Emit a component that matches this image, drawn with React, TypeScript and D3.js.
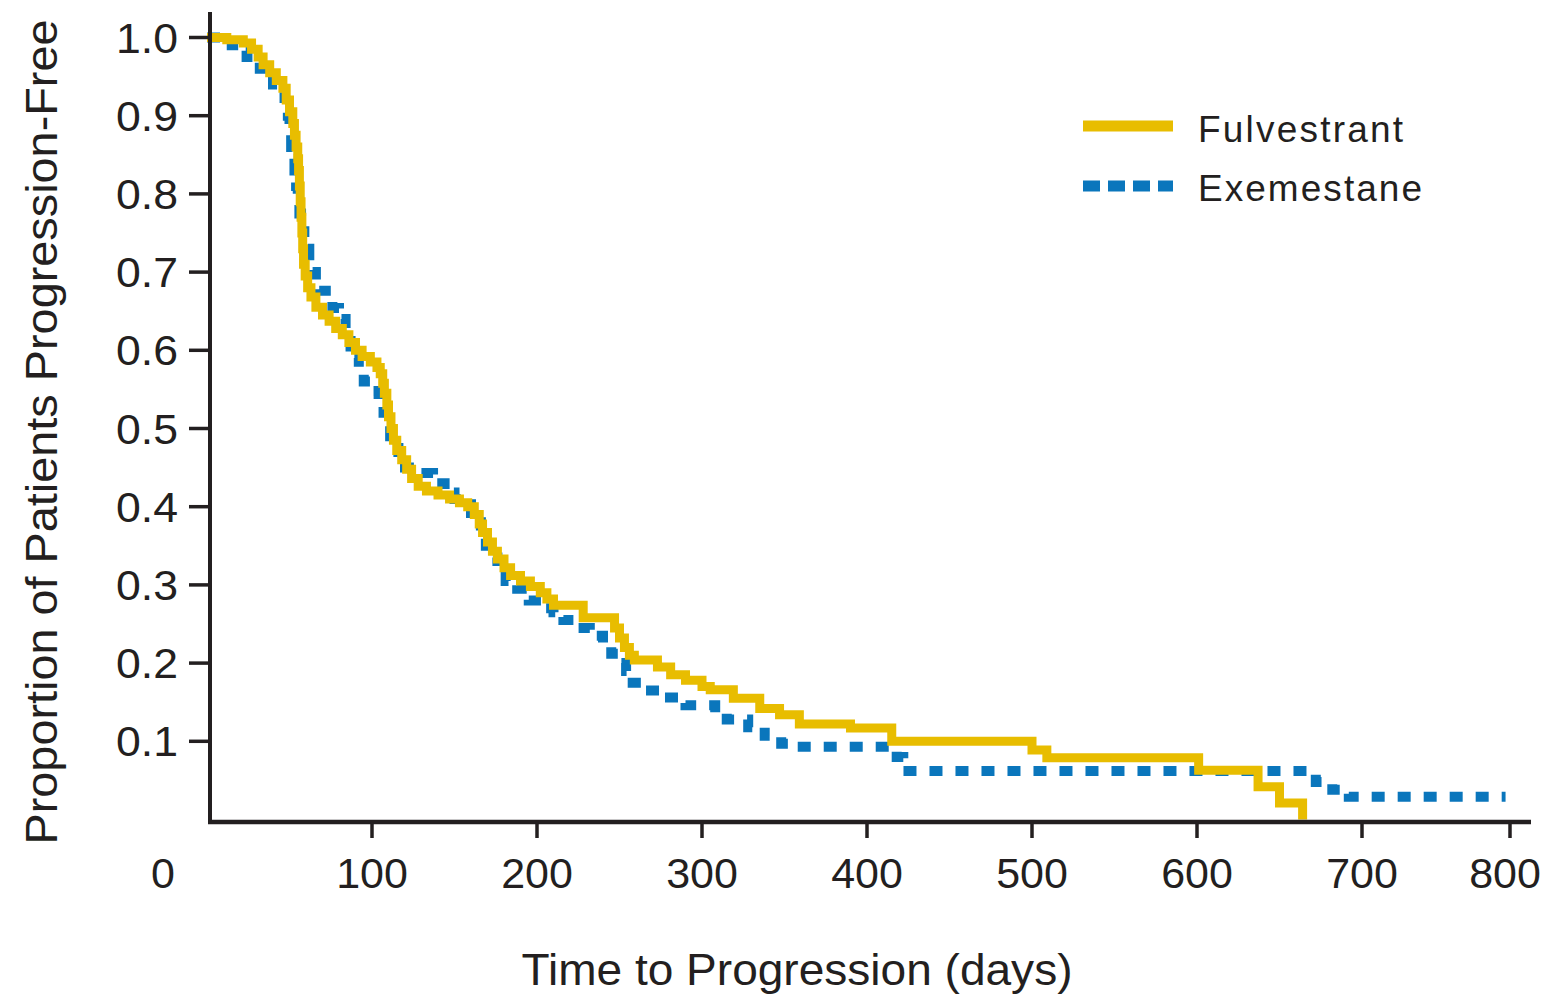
import React from "react";
import * as d3 from "d3";

const xTicks = [100, 200, 300, 400, 500, 600, 700, 800];
const yTicks = [0.1, 0.2, 0.3, 0.4, 0.5, 0.6, 0.7, 0.8, 0.9, 1.0];

const seriesNames = ["Fulvestrant", "Exemestane"];

const fulvestrantDays = [0, 12, 22, 27, 31, 34, 38, 42, 46, 48, 50, 52, 53, 54, 55, 55.5, 56, 56.5, 57, 57.5, 58, 58.5, 59.5, 61, 63, 66, 70, 74, 78, 82, 86, 90, 94, 99, 103, 105, 106.5, 107.5, 109, 110, 111.5, 113, 115, 118, 121, 124, 128, 133, 140, 147, 153, 158, 162, 165, 167, 170, 173, 176, 180, 184, 190, 196, 202, 206, 210, 228, 247, 250, 253, 256, 259, 273, 281, 290, 300, 305, 319, 335, 347, 359, 390, 415, 500, 509, 601, 637, 650, 664];
const fulvestrantSurv = [1.0, 0.997, 0.993, 0.985, 0.975, 0.965, 0.955, 0.945, 0.935, 0.92, 0.905, 0.89, 0.875, 0.86, 0.845, 0.83, 0.81, 0.79, 0.77, 0.75, 0.73, 0.71, 0.695, 0.68, 0.668, 0.655, 0.645, 0.637, 0.628, 0.62, 0.61, 0.6, 0.592, 0.585, 0.578, 0.57, 0.558, 0.545, 0.53, 0.515, 0.5, 0.485, 0.472, 0.46, 0.448, 0.436, 0.426, 0.42, 0.415, 0.41, 0.405, 0.4, 0.39, 0.378, 0.367, 0.355, 0.343, 0.333, 0.322, 0.312, 0.305, 0.298, 0.29, 0.282, 0.274, 0.258, 0.245, 0.232, 0.22, 0.21, 0.204, 0.195, 0.185, 0.178, 0.17, 0.166, 0.155, 0.142, 0.134, 0.122, 0.117, 0.1, 0.089, 0.079, 0.063, 0.042, 0.021, 0];

const exemestaneDays = [0, 10, 15, 20, 24, 28, 32, 36, 40, 44, 47, 49, 50, 51, 52, 53, 54, 55, 56, 57, 59, 61, 62, 64, 66, 68, 72, 76, 80, 84, 87, 89, 92, 95, 100, 104, 107, 109, 111, 113, 116, 120, 126, 137, 144, 150, 155, 160, 163, 166, 169, 172, 176, 181, 188, 195, 203, 210, 216, 224, 232, 240, 245, 250, 254, 258, 265, 276, 290, 308, 315, 328, 338, 348, 354, 418, 422, 672, 682, 692, 797];
const exemestaneSurv = [1.0, 0.995, 0.99, 0.983, 0.975, 0.968, 0.96, 0.95, 0.94, 0.93, 0.915, 0.9, 0.88, 0.86, 0.845, 0.83, 0.81, 0.79, 0.775, 0.76, 0.745, 0.73, 0.715, 0.7, 0.688, 0.676, 0.665, 0.654, 0.64, 0.625, 0.605, 0.59, 0.575, 0.56, 0.548, 0.535, 0.52, 0.505, 0.49, 0.475, 0.462, 0.45, 0.443, 0.43, 0.418, 0.41, 0.403, 0.392, 0.38, 0.366, 0.35, 0.335, 0.318, 0.305, 0.295, 0.28, 0.27, 0.265, 0.255, 0.245, 0.235, 0.225, 0.212, 0.2, 0.19, 0.175, 0.165, 0.156, 0.146, 0.137, 0.128, 0.118, 0.107, 0.097, 0.093, 0.08, 0.062, 0.048, 0.038, 0.029, 0.029];

const YELLOW = "#E8BD00";
const BLUE = "#0A76BC";
const INK = "#231F20";
const FONT = "'Liberation Sans', Arial, Helvetica, sans-serif";

export default function App() {
  const x = d3.scaleLinear().domain([0, 700, 800]).range([207, 1362, 1510]);
  const y = d3.scaleLinear().domain([0, 1]).range([819.5, 37.5]);

  const line = d3
    .line<[number, number]>()
    .x((d) => x(d[0]))
    .y((d) => y(d[1]))
    .curve(d3.curveStepAfter);

  const fData: [number, number][] = fulvestrantDays.map((d, i) => [d, fulvestrantSurv[i]]);
  const eData: [number, number][] = exemestaneDays.map((d, i) => [d, exemestaneSurv[i]]);

  const axisY = 822;
  const axisX = 210;

  return (
    <svg
      width={1553}
      height={998}
      style={{ position: "absolute", left: 0, top: 0, background: "#fff" }}
      fontFamily={FONT}
    >
      <rect x={0} y={0} width={1553} height={998} fill="#fff" />
      {/* curves */}
      <path d={line(eData) || ""} fill="none" stroke={BLUE} strokeWidth={10} strokeDasharray="13,13" />
      <path d={line(fData) || ""} fill="none" stroke={YELLOW} strokeWidth={9} strokeLinejoin="miter" />

      {/* axes */}
      <line x1={axisX} x2={axisX} y1={12} y2={axisY + 2} stroke={INK} strokeWidth={4} />
      <line x1={axisX - 2} x2={1531} y1={axisY} y2={axisY} stroke={INK} strokeWidth={4.5} />

      {yTicks.map((t) => (
        <g key={"y" + t}>
          <line x1={189} x2={axisX} y1={y(t)} y2={y(t)} stroke={INK} strokeWidth={3.5} />
          <text x={178} y={y(t) + 15} textAnchor="end" fontSize={43} fill={INK} textLength={62} lengthAdjust="spacingAndGlyphs">
            {t.toFixed(1)}
          </text>
        </g>
      ))}

      {xTicks.map((t) => (
        <g key={"x" + t}>
          <line x1={x(t)} x2={x(t)} y1={axisY} y2={axisY + 16} stroke={INK} strokeWidth={3.5} />
          <text x={t === 800 ? x(t) - 5 : x(t)} y={888} textAnchor="middle" fontSize={43} fill={INK}>
            {t}
          </text>
        </g>
      ))}
      <text x={x(0) - 44} y={888} textAnchor="middle" fontSize={43} fill={INK}>
        0
      </text>

      {/* axis titles */}
      <text
        x={797}
        y={985}
        textAnchor="middle"
        fontSize={45}
        fill={INK}
        textLength={551}
        lengthAdjust="spacingAndGlyphs"
      >
        Time to Progression (days)
      </text>
      <text
        transform={`translate(57,432) rotate(-90)`}
        textAnchor="middle"
        fontSize={45}
        fill={INK}
        textLength={825}
        lengthAdjust="spacingAndGlyphs"
      >
        Proportion of Patients Progression-Free
      </text>

      {/* legend */}
      <line x1={1083} x2={1173} y1={126} y2={126} stroke={YELLOW} strokeWidth={11} />
      <text x={1198} y={142} fontSize={37} fill={INK} textLength={205} lengthAdjust="spacing">
        {seriesNames[0]}
      </text>
      <line x1={1083} x2={1173} y1={186} y2={186} stroke={BLUE} strokeWidth={11} strokeDasharray="17,8" />
      <text x={1198} y={201} fontSize={37} fill={INK} textLength={224} lengthAdjust="spacing">
        {seriesNames[1]}
      </text>
    </svg>
  );
}
